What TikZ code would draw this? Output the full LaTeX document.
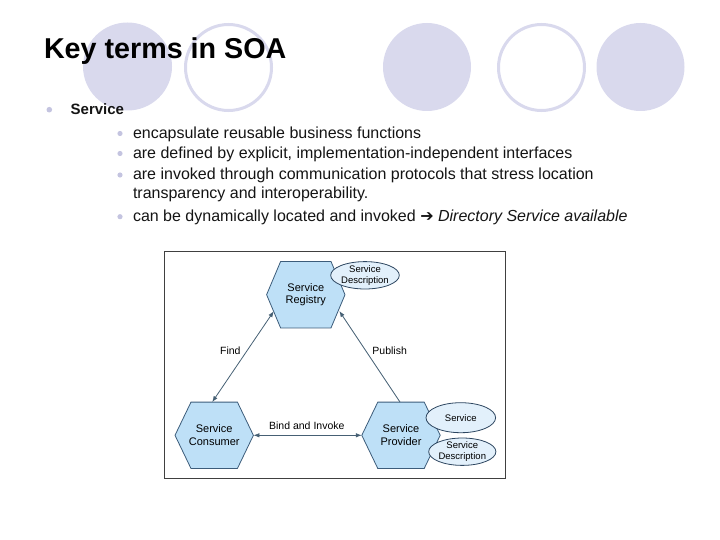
\documentclass[tikz,border=0pt]{standalone}
\usepackage{fontspec}
\setmainfont{Liberation Sans}
\newfontfamily\arrowfont{DejaVu Sans}
\usetikzlibrary{arrows.meta,shapes.geometric,calc,backgrounds}
\definecolor{lav}{RGB}{217,217,237}
\definecolor{lavdot}{RGB}{196,196,224}
\definecolor{hexfill}{RGB}{190,224,247}
\definecolor{hexline}{RGB}{60,92,122}
\definecolor{ellfill}{RGB}{226,240,251}
\definecolor{ellline}{RGB}{45,70,96}
\definecolor{arr}{RGB}{70,96,116}
\definecolor{boxline}{RGB}{64,64,64}
\definecolor{txtc}{RGB}{20,20,20}
\begin{document}
\begin{tikzpicture}[x=1pt,y=-1pt,
  txt/.style={anchor=base west,inner sep=0pt,outer sep=0pt,text=txtc},
  subtxt/.style={txt,font=\fontsize{16}{19}\selectfont},
  hexbox/.style={draw=none,minimum width=78pt,minimum height=66pt,inner sep=0pt,align=center,font=\fontsize{11}{12.5}\selectfont},
  hexshape/.style={fill=hexfill,draw=hexline,line width=0.8pt},
  desc/.style={ellipse,draw=ellline,fill=ellfill,line width=0.8pt,inner sep=0pt,align=center,font=\fontsize{9.5}{10.5}\selectfont},
  conn/.style={draw=arr,line width=0.8pt},
  lbl/.style={inner sep=0pt,anchor=base,font=\fontsize{10.5}{12}\selectfont},
  subdot/.style={fill=lavdot},
  ring/.style={draw=lav,line width=3pt},
  disc/.style={fill=lav}
]
\useasboundingbox (0,0) rectangle (720,540);

% decorative circles
\fill[disc] (127.5,66.5) ellipse [x radius=44.5, y radius=44];
\draw[ring] (228.5,67.5) ellipse [x radius=43, y radius=43];
\fill[disc] (427,67) ellipse [x radius=44, y radius=44];
\draw[ring] (541.5,67.5) ellipse [x radius=43, y radius=43];
\fill[disc] (640.5,67) ellipse [x radius=44, y radius=44];

% title and bullets
\node[txt,font=\fontsize{28.7}{32}\selectfont\bfseries,text=black] (title) at (44,58.3) {Key terms in SOA};
\fill[lavdot] (49.3,109.7) circle (2.8);
\node[txt,font=\fontsize{15}{18}\selectfont\bfseries] (svc) at (70.7,114.5) {Service};

\fill[subdot] (120,133.5) circle (2.6);
\node[subtxt] (l1) at (133,138.5) {encapsulate reusable business functions};
\fill[subdot] (120,153.5) circle (2.6);
\node[subtxt] (l2) at (133,158.3) {are defined by explicit, implementation-independent interfaces};
\fill[subdot] (120,175) circle (2.6);
\node[subtxt] (l3) at (133,180) {are invoked through communication protocols that stress location};
\node[subtxt] (l4) at (133,199) {transparency and interoperability.};
\fill[subdot] (120,216.7) circle (2.6);
\node[subtxt] (l5) at (133,221.7) {can be dynamically located and invoked {\arrowfont\bfseries ➔} \textit{Directory Service available}};

% diagram frame
\draw[boxline,line width=1.3pt] (164.7,251.7) rectangle (505.7,478.5);

% hexagon nodes
\node[hexbox] (reg) at (305.8,294.7) {Service\\Registry};
\node[hexbox] (con) at (214.2,435.3) {Service\\Consumer};
\node[hexbox] (pro) at (401,435.3) {Service\\Provider};

\begin{scope}[on background layer]
\foreach \h/\o in {reg/14,con/16,pro/16}{
  \path[hexshape] (\h.west) -- ($(\h.north west)+(\o,0)$) -- ($(\h.north east)+(-\o,0)$)
    -- (\h.east) -- ($(\h.south east)+(-\o,0)$) -- ($(\h.south west)+(\o,0)$) -- cycle;
}
\end{scope}

% description ellipses
\node[desc,minimum width=68.6pt,minimum height=26pt] (rdesc) at (365,275.3) {Service\\Description};
\node[desc,minimum width=69.6pt,minimum height=30pt] (psvc) at (460.8,417.7) {Service};
\node[desc,minimum width=66.6pt,minimum height=26.6pt] (pdesc) at (462.3,451.7) {Service\\Description};

% connectors
\draw[conn,{Latex[length=6pt,width=4.5pt]}-{Latex[length=6pt,width=4.5pt]}]
  ($(reg.center)+(-32,16.5)$) -- ($(con.north)+(-2,0)$);
\draw[conn,-{Latex[length=6pt,width=4.5pt]}]
  ($(pro.north)+(-1,0)$) -- ($(reg.center)+(33.5,16.3)$);
\draw[conn,{Latex[length=6pt,width=4.5pt]}-{Latex[length=6pt,width=4.5pt]}]
  (con.east) -- (pro.west);

% connector labels
\node[lbl] (find) at (230.3,354.3) {Find};
\node[lbl] (pub) at (389.7,354.3) {Publish};
\node[lbl] (bind) at (306.8,429.3) {Bind and Invoke};
\end{tikzpicture}
\end{document}
